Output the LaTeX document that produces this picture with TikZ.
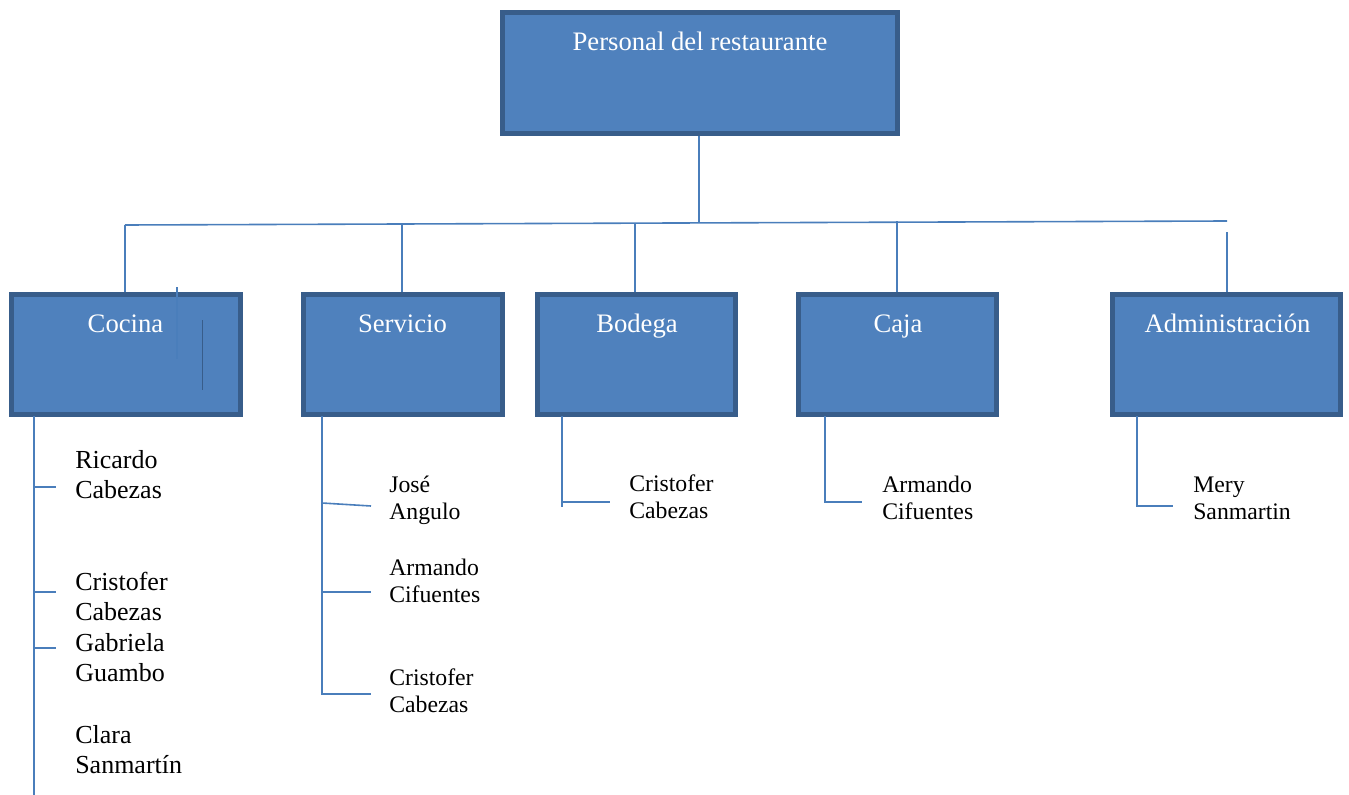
\documentclass[tikz,border=0pt]{standalone}
\usepackage{fontspec}
\setmainfont{Liberation Serif}
\definecolor{boxfill}{HTML}{4F81BD}
\definecolor{boxline}{HTML}{385D8A}
\definecolor{linkcol}{HTML}{4A7EBB}
\tikzset{
  unitbox/.style={draw=boxline, fill=boxfill, line width=3.75pt, inner sep=0pt, minimum height=90pt},
  unittext/.style={text=white, anchor=base, inner sep=0pt, font=\fontsize{20}{24}\selectfont},
  link/.style={draw=linkcol, line width=1.2pt},
  staff/.style={anchor=base west, inner sep=0pt, align=left, font=\fontsize{17.8}{20.25}\selectfont},
  bigstaff/.style={staff, font=\fontsize{19.5}{22.5}\selectfont}
}
\begin{document}
\begin{tikzpicture}[x=0.75pt,y=-0.75pt]
            \useasboundingbox (0,0) rectangle (1349,795);
            % Nodes
            \node[unitbox, minimum width=296.25pt, minimum height=90.75pt] (personal) at (700,73.5) {};
            \node[unitbox, minimum width=171.75pt] (cocina) at (126,354.5) {};
            \node[unitbox, minimum width=149.25pt] (servicio) at (403,354.5) {};
            \node[unitbox, minimum width=148.5pt] (bodega) at (636.5,354.5) {};
            \node[unitbox, minimum width=148.5pt] (caja) at (897.5,354.5) {};
            \node[unitbox, minimum width=171pt] (admin) at (1226.5,354.5) {};

            \node[unittext] (personalT) at (700,51) {Personal del restaurante};
            \node[unittext] (cocinaT) at (125.5,332) {Cocina};
            \node[unittext] (servicioT) at (402.5,332) {Servicio};
            \node[unittext] (bodegaT) at (637,332) {Bodega};
            \node[unittext] (cajaT) at (898,332) {Caja};
            \node[unittext] (adminT) at (1227.5,332) {Administración};

            % staff lists (base = last line)
            \node[bigstaff] (ricardo) at (75,498) {Ricardo\\Cabezas};
            \node[bigstaff] (cristoferC) at (75,620) {Cristofer\\Cabezas};
            \node[bigstaff] (gabriela) at (75,681) {Gabriela\\Guambo};
            \node[bigstaff] (clara) at (75,773) {Clara\\Sanmartín};
            \node[staff] (jose) at (389,519) {José\\Angulo};
            \node[staff] (armandoS) at (389,602) {Armando\\Cifuentes};
            \node[staff] (cristoferS) at (389,712) {Cristofer\\Cabezas};
            \node[staff] (cristoferB) at (629,518) {Cristofer\\Cabezas};
            \node[staff] (armandoK) at (882,519) {Armando\\Cifuentes};
            \node[staff] (mery) at (1193,519) {Mery\\Sanmartin};

            % Coordinates
            \coordinate (drop) at (699,136);
            \coordinate (busC) at (125,225);
            \coordinate (busS) at (402,223.7);
            \coordinate (busB) at (635,222.6);
            \coordinate (busP) at (699,222.3);
            \coordinate (busK) at (897,221.4);
            \coordinate (busA) at (1227,221);
            \coordinate (admTop) at (1227,232);
            \coordinate (s1a) at (177,287);
            \coordinate (s1b) at (177,359);
            \coordinate (s2a) at (202,320);
            \coordinate (s2b) at (202,390);

            \coordinate (cocRoot) at (34,416);
            \coordinate (cocEnd) at (34,795);
            \coordinate (tRicardo) at (56,487);
            \coordinate (tCristoferC) at (56,592);
            \coordinate (tGabriela) at (56,648);
            \coordinate (serRoot) at (322,416);
            \coordinate (tJose) at (371,506);
            \coordinate (tArmandoS) at (371,592);
            \coordinate (tCristoferS) at (371,694);
            \coordinate (bodRoot) at (562,416);
            \coordinate (bodEnd) at (562,507);
            \coordinate (tCristoferB) at (610,502);
            \coordinate (cajRoot) at (825,416);
            \coordinate (tArmandoK) at (862,502);
            \coordinate (admRoot) at (1137,416);
            \coordinate (tMery) at (1173,506);

            % Connections
            \draw[link] (drop) -- (busP);
            \draw[link] (busC) -- (busA);
            \draw[link] (busC) -- (busC |- cocina.north);
            \draw[link] (busS) -- (busS |- servicio.north);
            \draw[link] (busB) -- (busB |- bodega.north);
            \draw[link] (busK) -- (busK |- caja.north);
            \draw[link] (admTop) -- (admTop |- admin.north);
            \draw[link] (s1a) -- (s1b);
            \draw[draw=boxline, line width=0.5pt] (s2a) -- (s2b);

            \draw[link] (cocRoot) -- (cocEnd);
            \draw[link] (tRicardo -| cocRoot) -- (tRicardo);
            \draw[link] (tCristoferC -| cocRoot) -- (tCristoferC);
            \draw[link] (tGabriela -| cocRoot) -- (tGabriela);

            \draw[link] (serRoot) -- (tCristoferS -| serRoot) -- (tCristoferS);
            \draw[link] ([yshift=2.25pt]tJose -| serRoot) -- (tJose);
            \draw[link] (tArmandoS -| serRoot) -- (tArmandoS);

            \draw[link] (bodRoot) -- (bodEnd);
            \draw[link] (tCristoferB -| bodRoot) -- (tCristoferB);
            \draw[link] (cajRoot) -- (tArmandoK -| cajRoot) -- (tArmandoK);
            \draw[link] (admRoot) -- (tMery -| admRoot) -- (tMery);
        \end{tikzpicture}
\end{document}
